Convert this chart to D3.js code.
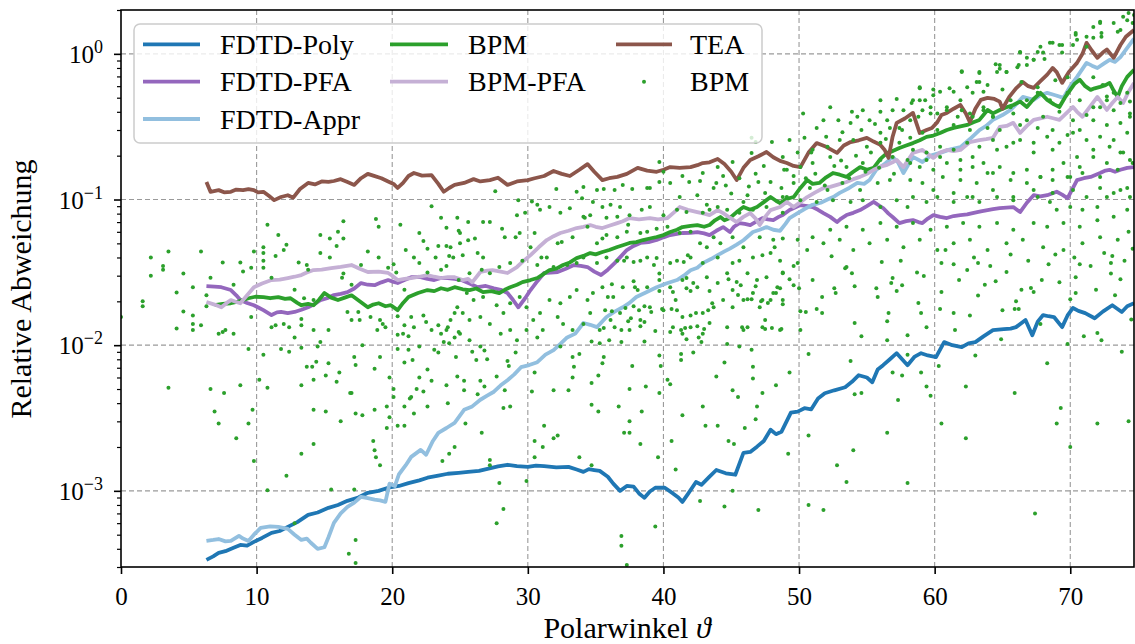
<!DOCTYPE html>
<html><head><meta charset="utf-8">
<script src="https://cdn.jsdelivr.net/npm/d3@7"></script>
<style>body{margin:0;background:#fff}svg{display:block}text{font-family:"Liberation Serif","Times New Roman",serif;fill:#000}</style>
</head><body><svg id="c" width="1135" height="644"></svg>
<script>
const xTickValues=[0,10,20,30,40,50,60,70];
const yTickExponents=[-3,-2,-1,0];
const legendLabels=["FDTD-Poly","FDTD-PFA","FDTD-Appr","BPM","BPM-PFA","TEA","BPM"];
const xLabel="Polarwinkel ";
const yLabel="Relative Abweichung";

const fdtdPoly=[[6.3,3.36e-4],[6.8,3.55e-4],[7.2,3.75e-4],[7.7,3.85e-4],[8.3,4.06e-4],[8.8,4.25e-4],[9.3,4.2e-4],[9.8,4.46e-4],[10.4,4.75e-4],[11.1,5.15e-4],[11.7,5.3e-4],[12.3,5.66e-4],[13.0,6.1e-4],[13.8,6.84e-4],[14.5,7.1e-4],[15.3,7.64e-4],[16.0,8.0e-4],[16.7,8.54e-4],[17.5,9.0e-4],[18.2,9.7e-4],[19.0,1.0e-3],[19.7,1.05e-3],[20.5,1.08e-3],[21.2,1.13e-3],[22.0,1.18e-3],[22.6,1.23e-3],[23.4,1.27e-3],[24.1,1.31e-3],[24.9,1.33e-3],[25.6,1.35e-3],[26.4,1.37e-3],[27.1,1.42e-3],[27.8,1.47e-3],[28.5,1.51e-3],[29.2,1.48e-3],[30.0,1.46e-3],[30.6,1.49e-3],[31.2,1.48e-3],[32.1,1.45e-3],[33.0,1.46e-3],[33.6,1.40e-3],[34.1,1.35e-3],[34.5,1.41e-3],[34.9,1.39e-3],[35.3,1.37e-3],[35.9,1.25e-3],[36.3,1.12e-3],[36.8,1.0e-3],[37.3,1.08e-3],[37.8,1.07e-3],[38.2,9.6e-4],[38.6,8.95e-4],[39.0,9.9e-4],[39.4,1.05e-3],[40.1,1.05e-3],[40.7,9.6e-4],[41.1,9.0e-4],[41.4,8.4e-4],[41.8,9.5e-4],[42.4,1.15e-3],[42.8,1.1e-3],[43.4,1.25e-3],[43.9,1.39e-3],[44.6,1.32e-3],[45.3,1.29e-3],[45.9,1.82e-3],[46.4,1.85e-3],[46.9,2.01e-3],[47.4,2.2e-3],[47.9,2.63e-3],[48.3,2.45e-3],[48.7,2.54e-3],[49.4,3.44e-3],[49.9,3.5e-3],[50.4,3.69e-3],[50.9,3.63e-3],[51.4,4.3e-3],[51.9,4.68e-3],[52.6,4.9e-3],[53.4,5.14e-3],[53.9,5.6e-3],[54.4,6.22e-3],[55.0,6.0e-3],[55.4,5.57e-3],[55.8,6.8e-3],[56.2,7.29e-3],[56.7,8.0e-3],[57.2,8.81e-3],[57.6,8.0e-3],[58.0,7.29e-3],[58.5,8.3e-3],[59.0,8.81e-3],[59.5,8.5e-3],[60.1,8.27e-3],[60.7,1.05e-2],[61.3,1.0e-2],[62.0,9.7e-3],[62.5,1.03e-2],[63.0,1.05e-2],[63.6,1.15e-2],[64.3,1.27e-2],[65.1,1.29e-2],[65.6,1.3e-2],[66.0,1.33e-2],[66.7,1.49e-2],[67.2,1.17e-2],[67.6,1.45e-2],[68.0,1.61e-2],[68.4,1.58e-2],[68.8,1.56e-2],[69.4,1.33e-2],[69.8,1.6e-2],[70.2,1.8e-2],[70.6,1.72e-2],[71.1,1.66e-2],[71.8,1.53e-2],[72.4,1.7e-2],[73.1,1.88e-2],[73.8,1.69e-2],[74.2,1.85e-2],[74.7,1.94e-2]];

const fdtdPfa=[[6.3,2.54e-2],[6.9,2.52e-2],[7.4,2.5e-2],[8.1,2.39e-2],[8.5,2.2e-2],[8.8,2.04e-2],[9.3,1.95e-2],[9.8,1.88e-2],[10.2,1.8e-2],[10.5,1.74e-2],[11.1,1.61e-2],[11.5,1.68e-2],[11.8,1.69e-2],[12.3,1.66e-2],[12.8,1.69e-2],[13.3,1.75e-2],[13.8,1.82e-2],[14.2,1.9e-2],[14.7,2.04e-2],[15.2,2.1e-2],[15.7,2.21e-2],[16.2,2.25e-2],[16.7,2.31e-2],[17.2,2.45e-2],[17.7,2.67e-2],[18.2,2.6e-2],[18.7,2.58e-2],[19.2,2.7e-2],[19.7,2.8e-2],[20.1,2.72e-2],[20.4,2.67e-2],[20.9,2.8e-2],[21.4,2.93e-2],[22.1,2.93e-2],[22.6,2.85e-2],[23.1,2.8e-2],[23.6,2.9e-2],[24.1,2.89e-2],[24.6,2.85e-2],[25.1,2.8e-2],[25.7,2.65e-2],[26.3,2.5e-2],[26.9,2.55e-2],[27.5,2.46e-2],[28.0,2.4e-2],[28.5,2.28e-2],[28.9,2.05e-2],[29.3,1.82e-2],[29.8,2.1e-2],[30.2,2.39e-2],[30.7,2.75e-2],[31.2,3.13e-2],[31.7,3.15e-2],[32.2,3.18e-2],[32.8,3.35e-2],[33.4,3.55e-2],[33.9,3.5e-2],[34.4,3.44e-2],[34.9,3.2e-2],[35.4,3.03e-2],[35.9,3.3e-2],[36.4,3.66e-2],[36.9,4.1e-2],[37.3,4.5e-2],[37.8,4.8e-2],[38.3,5.03e-2],[38.9,5.1e-2],[39.5,5.27e-2],[40.0,5.5e-2],[40.5,5.7e-2],[41.0,5.8e-2],[41.4,5.89e-2],[42.0,5.9e-2],[42.5,5.98e-2],[43.0,5.85e-2],[43.4,5.7e-2],[43.9,6.1e-2],[44.4,6.47e-2],[44.9,5.98e-2],[45.2,6.5e-2],[45.6,6.89e-2],[46.0,6.8e-2],[46.4,6.68e-2],[46.9,7.1e-2],[47.3,7.46e-2],[47.7,7.3e-2],[48.1,7.23e-2],[48.5,7.6e-2],[48.8,7.82e-2],[49.3,8.46e-2],[49.7,8.8e-2],[50.1,9.16e-2],[50.6,9.0e-2],[51.0,8.88e-2],[51.4,8.5e-2],[51.8,8.07e-2],[52.3,7.6e-2],[52.8,7.0e-2],[53.1,7.4e-2],[53.5,7.82e-2],[54.0,8.1e-2],[54.5,8.46e-2],[55.0,9.0e-2],[55.5,9.62e-2],[55.9,9.1e-2],[56.2,8.74e-2],[56.6,8.0e-2],[56.9,7.58e-2],[57.4,6.89e-2],[57.9,7.1e-2],[58.4,7.23e-2],[58.8,7.0e-2],[59.1,6.89e-2],[59.5,7.4e-2],[59.9,7.82e-2],[60.4,7.6e-2],[60.9,7.46e-2],[61.4,7.7e-2],[61.9,7.82e-2],[62.4,7.9e-2],[62.8,8.07e-2],[63.4,8.3e-2],[63.9,8.46e-2],[64.3,8.6e-2],[64.8,8.74e-2],[65.3,8.8e-2],[65.8,8.88e-2],[66.3,8.2e-2],[66.8,9.5e-2],[67.3,0.107],[67.8,0.105],[68.3,0.107],[69.0,0.113],[69.4,0.108],[69.8,0.102],[70.2,0.12],[70.5,0.136],[71.0,0.14],[71.5,0.143],[72.2,0.152],[72.6,0.158],[72.9,0.16],[73.3,0.155],[73.7,0.16],[74.2,0.165],[74.7,0.167]];

const fdtdAppr=[[6.3,4.53e-4],[6.8,4.6e-4],[7.2,4.67e-4],[7.7,4.5e-4],[8.1,4.53e-4],[8.7,4.9e-4],[9.0,4.7e-4],[9.4,4.53e-4],[9.8,5.0e-4],[10.3,5.57e-4],[11.0,5.7e-4],[11.6,5.66e-4],[12.3,5.48e-4],[12.8,5.0e-4],[13.3,4.6e-4],[13.7,4.7e-4],[14.0,4.4e-4],[14.5,4.0e-4],[15.0,4.1e-4],[15.3,4.8e-4],[15.7,6.03e-4],[16.2,7.0e-4],[16.7,7.76e-4],[17.2,8.3e-4],[17.7,9.1e-4],[18.2,8.9e-4],[18.7,8.7e-4],[19.1,8.6e-4],[19.5,8.4e-4],[19.8,1.12e-3],[20.2,1.08e-3],[20.5,1.3e-3],[21.0,1.5e-3],[21.4,1.71e-3],[22.1,1.91e-3],[22.5,1.77e-3],[23.0,2.2e-3],[23.4,2.5e-3],[24.0,2.7e-3],[24.6,2.93e-3],[25.3,3.6e-3],[25.9,3.8e-3],[26.5,4.22e-3],[27.0,4.5e-3],[27.5,4.79e-3],[28.0,5.3e-3],[28.5,5.75e-3],[29.0,6.3e-3],[29.5,7.06e-3],[30.1,7.3e-3],[30.7,7.64e-3],[31.3,8.6e-3],[31.9,9.25e-3],[32.4,1.02e-2],[32.9,1.13e-2],[33.5,1.2e-2],[34.1,1.42e-2],[34.6,1.38e-2],[35.1,1.33e-2],[35.8,1.56e-2],[36.4,1.7e-2],[37.0,1.82e-2],[37.5,1.95e-2],[38.0,2.14e-2],[38.7,2.3e-2],[39.5,2.5e-2],[40.2,2.65e-2],[41.0,2.8e-2],[41.5,3.0e-2],[42.0,3.27e-2],[42.5,3.4e-2],[42.9,3.66e-2],[43.5,3.9e-2],[44.0,4.15e-2],[44.5,4.4e-2],[44.9,4.6e-2],[45.4,4.9e-2],[45.9,5.25e-2],[46.6,5.98e-2],[47.1,6.2e-2],[47.6,6.47e-2],[48.1,6.2e-2],[48.6,6.1e-2],[49.0,6.8e-2],[49.3,7.46e-2],[49.9,8.07e-2],[50.4,8.6e-2],[51.0,9.2e-2],[51.6,9.5e-2],[52.1,0.1],[52.6,0.105],[53.0,0.111],[53.7,0.12],[54.3,0.13],[54.8,0.128],[55.2,0.136],[55.7,0.16],[56.3,0.175],[56.9,0.196],[57.3,0.18],[57.7,0.152],[58.0,0.17],[58.4,0.196],[59.1,0.181],[59.7,0.2],[60.4,0.209],[61.1,0.22],[61.9,0.229],[62.6,0.26],[63.3,0.3],[63.8,0.32],[64.3,0.352],[65.0,0.38],[65.6,0.412],[66.0,0.45],[66.5,0.506],[67.3,0.483],[67.8,0.52],[68.3,0.54],[68.9,0.52],[69.5,0.499],[70.0,0.6],[70.5,0.695],[71.2,0.867],[71.6,0.83],[72.0,0.8],[72.5,0.86],[72.9,0.91],[73.3,0.88],[73.7,0.95],[74.2,1.1],[74.7,1.27]];

const bpm=[[6.9,1.88e-2],[7.5,1.92e-2],[8.1,1.94e-2],[8.7,2.0e-2],[9.4,2.1e-2],[9.9,2.15e-2],[10.5,2.14e-2],[11.0,2.1e-2],[11.6,2.14e-2],[12.1,2.08e-2],[12.5,2.1e-2],[13.0,1.95e-2],[13.3,1.88e-2],[13.8,1.92e-2],[14.2,1.88e-2],[14.6,2.05e-2],[15.0,2.28e-2],[15.5,2.12e-2],[16.0,2.04e-2],[16.5,2.12e-2],[17.0,2.2e-2],[17.6,2.0e-2],[18.2,1.82e-2],[18.6,1.9e-2],[19.0,1.94e-2],[19.5,1.85e-2],[19.9,1.88e-2],[20.4,1.74e-2],[20.8,1.95e-2],[21.2,2.14e-2],[21.9,2.28e-2],[22.6,2.39e-2],[23.1,2.35e-2],[23.6,2.46e-2],[24.1,2.4e-2],[24.6,2.5e-2],[25.2,2.42e-2],[25.7,2.39e-2],[26.2,2.45e-2],[26.7,2.31e-2],[27.3,2.35e-2],[27.9,2.28e-2],[28.3,2.4e-2],[28.7,2.5e-2],[29.2,2.6e-2],[29.6,2.71e-2],[30.2,2.8e-2],[30.7,2.89e-2],[31.2,3.1e-2],[31.6,3.28e-2],[32.1,3.35e-2],[32.6,3.55e-2],[33.1,3.7e-2],[33.6,3.96e-2],[34.1,4.1e-2],[34.6,4.29e-2],[35.0,4.2e-2],[35.5,4.36e-2],[36.0,4.5e-2],[36.6,4.72e-2],[37.0,4.85e-2],[37.5,5.03e-2],[38.0,5.1e-2],[38.5,5.27e-2],[39.0,5.4e-2],[39.5,5.53e-2],[40.0,5.7e-2],[40.5,5.98e-2],[41.0,6.2e-2],[41.4,6.47e-2],[42.0,6.6e-2],[42.5,6.68e-2],[43.0,6.5e-2],[43.4,6.68e-2],[43.8,7.2e-2],[44.2,7.58e-2],[44.5,7.2e-2],[44.9,7.46e-2],[45.4,8.2e-2],[45.9,8.88e-2],[46.4,8.5e-2],[46.9,8.88e-2],[47.4,9.6e-2],[47.9,0.104],[48.3,0.098],[48.6,0.0946],[49.1,0.101],[49.6,0.104],[50.1,0.12],[50.6,0.136],[51.0,0.128],[51.5,0.13],[52.0,0.142],[52.5,0.152],[53.0,0.148],[53.5,0.143],[54.0,0.155],[54.5,0.167],[55.0,0.16],[55.5,0.165],[56.0,0.19],[56.5,0.209],[56.9,0.215],[57.4,0.226],[57.9,0.235],[58.4,0.244],[58.9,0.255],[59.4,0.269],[59.9,0.275],[60.4,0.286],[60.9,0.3],[61.4,0.31],[61.9,0.318],[62.4,0.325],[62.9,0.34],[63.3,0.352],[63.9,0.412],[64.3,0.39],[64.8,0.412],[65.3,0.43],[65.8,0.446],[66.3,0.47],[66.8,0.432],[67.3,0.49],[67.8,0.54],[68.3,0.483],[68.8,0.45],[69.2,0.432],[69.6,0.5],[70.0,0.566],[70.3,0.62],[70.7,0.663],[71.1,0.6],[71.5,0.566],[71.8,0.58],[72.2,0.593],[72.6,0.61],[72.9,0.632],[73.2,0.56],[73.5,0.506],[73.8,0.6],[74.2,0.695],[74.7,0.776]];

const bpmPfa=[[6.3,1.98e-2],[6.9,1.9e-2],[7.4,1.82e-2],[7.8,1.95e-2],[8.1,2.04e-2],[8.5,1.98e-2],[8.8,1.94e-2],[9.3,2.2e-2],[9.8,2.5e-2],[10.4,2.65e-2],[11.1,2.8e-2],[11.7,2.82e-2],[12.3,2.89e-2],[12.8,2.95e-2],[13.3,3.03e-2],[13.7,3.15e-2],[14.2,3.28e-2],[14.8,3.3e-2],[15.5,3.38e-2],[16.2,3.45e-2],[17.0,3.55e-2],[17.6,3.35e-2],[18.2,3.18e-2],[19.0,3.2e-2],[19.7,3.13e-2],[20.0,3.0e-2],[20.4,2.8e-2],[20.9,2.85e-2],[21.4,2.89e-2],[22.0,2.95e-2],[22.6,3.03e-2],[23.1,2.95e-2],[23.6,2.89e-2],[24.1,2.93e-2],[24.6,2.93e-2],[25.2,2.8e-2],[25.6,2.85e-2],[25.9,2.7e-2],[26.5,3.18e-2],[27.0,3.25e-2],[27.4,3.28e-2],[28.0,3.2e-2],[28.5,3.13e-2],[29.2,3.44e-2],[29.7,3.8e-2],[30.2,4.15e-2],[30.8,4.7e-2],[31.4,5.27e-2],[31.9,5.6e-2],[32.4,5.89e-2],[33.0,6.1e-2],[33.6,6.37e-2],[34.1,6.5e-2],[34.6,6.68e-2],[35.0,6.5e-2],[35.5,6.37e-2],[36.0,6.6e-2],[36.6,6.89e-2],[37.0,7.1e-2],[37.5,7.46e-2],[38.2,7.3e-2],[39.0,7.46e-2],[39.6,7.3e-2],[40.3,7.46e-2],[40.8,8.2e-2],[41.2,8.88e-2],[41.8,8.5e-2],[42.5,8.2e-2],[43.0,8.0e-2],[43.4,7.82e-2],[44.0,8.46e-2],[44.4,8.07e-2],[44.9,7.5e-2],[45.4,7.0e-2],[45.9,7.6e-2],[46.4,8.07e-2],[46.8,7.4e-2],[47.1,6.68e-2],[47.5,7.6e-2],[47.9,8.46e-2],[48.6,8.88e-2],[49.1,9.62e-2],[49.6,8.88e-2],[50.1,9.6e-2],[50.6,0.104],[51.2,0.112],[51.8,0.12],[52.3,0.122],[52.8,0.126],[53.5,0.132],[54.0,0.138],[54.5,0.143],[55.0,0.15],[55.5,0.16],[56.0,0.168],[56.5,0.173],[56.9,0.18],[57.2,0.187],[57.7,0.167],[58.1,0.19],[58.4,0.209],[59.1,0.219],[59.9,0.193],[60.4,0.21],[60.9,0.219],[61.4,0.215],[61.9,0.219],[62.6,0.248],[63.3,0.256],[63.8,0.26],[64.3,0.265],[64.8,0.315],[65.3,0.32],[65.8,0.336],[66.3,0.286],[66.8,0.32],[67.3,0.352],[67.8,0.36],[68.3,0.37],[68.8,0.36],[69.2,0.352],[69.7,0.39],[70.2,0.432],[70.5,0.4],[70.9,0.37],[71.5,0.44],[72.0,0.506],[72.4,0.45],[72.7,0.412],[73.1,0.46],[73.5,0.506],[73.9,0.46],[74.3,0.55],[74.7,0.632]];

const tea=[[6.3,0.132],[6.6,0.113],[7.2,0.116],[7.6,0.112],[8.1,0.113],[8.5,0.117],[9.0,0.116],[9.4,0.118],[9.8,0.116],[10.1,0.112],[10.5,0.113],[10.9,0.106],[11.3,0.099],[11.8,0.104],[12.3,0.107],[12.7,0.103],[13.2,0.118],[13.8,0.130],[14.3,0.127],[14.8,0.133],[15.3,0.132],[15.7,0.134],[16.2,0.138],[16.7,0.132],[17.2,0.126],[17.7,0.14],[18.2,0.150],[18.6,0.146],[19.2,0.14],[19.7,0.133],[20.1,0.128],[20.4,0.120],[20.8,0.13],[21.2,0.145],[21.6,0.152],[22.2,0.146],[22.9,0.147],[23.4,0.128],[23.8,0.113],[24.2,0.12],[24.6,0.126],[25.3,0.13],[26.0,0.138],[26.5,0.133],[27.2,0.136],[27.8,0.141],[28.5,0.126],[29.2,0.133],[30.0,0.136],[30.5,0.14],[31.2,0.145],[31.9,0.157],[32.5,0.15],[33.1,0.145],[33.8,0.16],[34.4,0.175],[34.9,0.155],[35.5,0.136],[36.0,0.14],[36.6,0.143],[37.3,0.15],[38.1,0.165],[38.8,0.158],[39.5,0.155],[40.0,0.16],[40.5,0.167],[41.2,0.165],[42.0,0.167],[42.5,0.172],[42.9,0.178],[43.4,0.18],[44.0,0.19],[44.5,0.175],[45.0,0.155],[45.4,0.136],[45.9,0.165],[46.4,0.187],[47.0,0.198],[47.6,0.212],[48.1,0.195],[48.6,0.184],[49.1,0.178],[49.6,0.17],[50.1,0.167],[50.7,0.21],[51.3,0.244],[52.0,0.23],[52.8,0.209],[53.3,0.235],[53.8,0.248],[54.4,0.255],[55.0,0.265],[55.5,0.25],[56.0,0.237],[56.3,0.22],[56.6,0.193],[56.9,0.27],[57.2,0.336],[57.8,0.36],[58.4,0.393],[58.9,0.286],[59.4,0.3],[59.8,0.31],[60.2,0.34],[60.5,0.38],[60.9,0.393],[61.4,0.42],[61.9,0.446],[62.3,0.39],[62.6,0.34],[63.0,0.42],[63.4,0.483],[63.9,0.499],[64.4,0.49],[64.8,0.47],[65.0,0.42],[65.5,0.506],[66.0,0.58],[66.5,0.64],[66.9,0.6],[67.3,0.584],[67.8,0.65],[68.3,0.72],[68.7,0.8],[69.0,0.75],[69.4,0.632],[69.9,0.75],[70.5,0.867],[70.9,1.0],[71.2,1.19],[71.6,1.05],[72.0,0.939],[72.4,1.02],[72.7,1.07],[73.2,0.939],[73.7,1.15],[74.1,1.31],[74.7,1.46]];

const bpmScatter=[[0.0,0.0156],[2.2,0.040],[2.2,0.030],[3.1,0.035],[3.1,0.033],[3.5,0.044],[4.6,0.031],[5.9,0.044],[5.3,0.025],[4.1,0.023],[1.6,0.020],[1.6,0.0185],[4.1,0.013],[4.6,0.017],[5.3,0.016],[5.3,0.014],[5.3,0.0127],[5.9,0.0137],[6.6,0.029],[6.3,0.022],[6.3,0.0185],[7.5,0.037],[8.3,0.026],[7.2,0.012],[7.5,0.0123],[7.7,0.0127],[8.3,0.012],[8.8,0.037],[9.0,0.032],[9.6,0.034],[9.8,0.044],[9.6,0.0156],[9.4,0.0094],[10.5,0.047],[10.5,0.043],[10.5,0.038],[10.5,0.034],[10.8,0.067],[11.6,0.057],[11.4,0.041],[12.0,0.045],[12.2,0.049],[11.1,0.029],[11.1,0.0133],[11.4,0.0137],[12.0,0.014],[12.4,0.0133],[12.8,0.0113],[13.3,0.0151],[13.3,0.0137],[11.8,0.0094],[12.4,0.009],[13.3,0.0096],[10.5,0.0086],[13.1,0.037],[13.7,0.0355],[13.8,0.033],[12.8,0.024],[13.5,0.021],[14.2,0.0204],[14.7,0.057],[15.4,0.054],[16.0,0.060],[16.4,0.054],[16.4,0.071],[14.7,0.043],[15.4,0.040],[15.9,0.048],[16.4,0.031],[16.3,0.029],[17.0,0.026],[17.7,0.0355],[18.2,0.044],[18.8,0.0735],[19.0,0.065],[19.0,0.040],[16.7,0.0169],[17.5,0.0169],[17.0,0.0149],[17.6,0.0149],[18.4,0.0156],[19.1,0.0149],[19.3,0.014],[19.5,0.0133],[18.9,0.0127],[15.3,0.0127],[14.2,0.0127],[14.7,0.0105],[14.5,0.0098],[17.8,0.010],[17.2,0.0083],[17.3,0.0073],[19.1,0.0083],[18.7,0.0069],[15.3,0.0075],[13.7,0.0071],[14.1,0.0071],[14.4,0.0077],[14.2,0.0058],[15.1,0.0062],[15.9,0.0056],[16.1,0.0065],[13.3,0.0053],[10.8,0.0051],[10.2,0.0058],[8.8,0.0053],[7.6,0.0047],[6.6,0.0050],[3.5,0.0051],[17.0,0.0047],[19.8,0.006],[20.1,0.005],[20.1,0.0044],[20.6,0.067],[19.7,0.034],[20.1,0.036],[20.3,0.0316],[21.0,0.045],[21.6,0.040],[22.0,0.059],[22.3,0.052],[22.0,0.0366],[22.9,0.090],[23.6,0.075],[24.0,0.064],[24.0,0.048],[24.3,0.047],[24.9,0.061],[22.6,0.046],[23.2,0.040],[23.4,0.048],[22.6,0.0316],[23.6,0.033],[24.2,0.041],[24.0,0.035],[20.9,0.024],[20.4,0.0158],[20.9,0.0137],[21.4,0.0156],[21.6,0.0133],[20.8,0.012],[21.2,0.0115],[20.4,0.0118],[22.3,0.016],[22.5,0.0144],[22.9,0.0127],[23.4,0.0137],[23.6,0.012],[24.0,0.0127],[24.3,0.0149],[24.6,0.0166],[24.9,0.0123],[24.6,0.0113],[23.8,0.0105],[24.2,0.0103],[24.1,0.0133],[21.2,0.0093],[20.4,0.0094],[22.0,0.0098],[23.1,0.0093],[23.4,0.0089],[24.7,0.0083],[20.9,0.0076],[21.5,0.0079],[22.6,0.0068],[22.0,0.006],[22.9,0.0057],[24.0,0.0053],[21.8,0.005],[22.3,0.0048],[21.4,0.0044],[6.9,0.0035],[7.2,0.0029],[8.5,0.0023],[9.4,0.0029],[9.7,0.0036],[9.8,0.0016],[12.2,0.00127],[10.8,0.00101],[12.8,0.0006],[13.3,0.0018],[14.2,0.0036],[14.2,0.0021],[15.1,0.0035],[16.2,0.003],[15.5,0.00102],[17.2,0.00102],[17.3,0.00046],[16.8,0.00037],[17.3,0.00032],[16.9,0.0047],[17.3,0.0034],[17.8,0.0033],[18.7,0.0036],[18.6,0.0022],[18.7,0.0019],[18.8,0.0017],[19.1,0.0015],[19.6,0.0038],[19.8,0.0032],[19.6,0.0027],[20.4,0.0028],[20.9,0.0028],[20.9,0.0038],[21.3,0.0043],[21.6,0.0034],[22.6,0.0038],[23.7,0.0016],[24.1,0.004],[24.2,0.0018],[24.6,0.002],[24.8,0.0061],[25.3,0.0049],[25.4,0.0029],[25.3,0.0057],[25.9,0.009],[26.2,0.0079],[26.3,0.0046],[26.5,0.0057],[26.6,0.0025],[26.8,0.0052],[26.8,0.0092],[27.0,0.008],[27.2,0.00163],[27.2,0.0015],[27.7,0.0061],[27.9,0.00113],[27.7,0.0006],[28.2,0.00075],[28.2,0.0037],[28.7,0.0038],[28.3,0.0049],[28.5,0.0078],[28.6,0.0072],[29.1,0.0089],[29.9,0.00117],[30.3,0.0048],[30.5,0.0065],[30.5,0.0022],[30.5,0.0017],[31.1,0.002],[31.2,0.0028],[31.9,0.0023],[32.2,0.0024],[31.9,0.0049],[33.0,0.0049],[33.3,0.006],[33.4,0.0071],[33.3,0.0083],[33.8,0.0017],[33.8,0.0087],[34.7,0.0055],[34.7,0.0039],[34.7,0.0106],[35.2,0.0062],[35.2,0.0035],[35.5,0.0075],[35.6,0.0083],[34.7,0.0015],[36.7,0.0038],[36.9,0.00049],[36.9,0.00042],[37.7,0.0072],[37.5,0.005],[37.5,0.003],[37.1,0.0025],[37.5,0.0025],[38.4,0.0035],[38.3,0.0021],[38.7,0.0052],[39.7,0.0085],[39.8,0.0072],[39.7,0.0047],[39.6,0.0017],[40.3,0.0058],[40.5,0.0054],[40.6,0.0022],[40.9,0.0014],[41.3,0.0087],[41.3,0.0079],[41.4,0.0033],[42.2,0.0089],[42.9,0.0038],[43.1,0.0028],[42.7,0.00085],[43.9,0.0061],[44.0,0.0028],[44.5,0.0076],[44.5,0.00078],[44.8,0.0022],[45.2,0.0021],[45.1,0.0049],[45.5,0.0044],[45.1,0.001],[46.0,0.0027],[46.6,0.0059],[46.9,0.0038],[46.8,0.0031],[47.3,0.0047],[47.0,0.00074],[48.3,0.0053],[49.2,0.0018],[49.3,0.0065],[39.4,0.00057],[37.3,0.00031],[50.7,0.0087],[50.7,0.0024],[50.7,0.0008],[51.8,0.00074],[52.8,0.0015],[53.5,0.00115],[54.0,0.0019],[53.8,0.0078],[54.6,0.0047],[54.1,0.0046],[54.6,0.0115],[54.1,0.0142],[56.5,0.0108],[56.5,0.0025],[56.9,0.0065],[57.3,0.0042],[57.6,0.0062],[58.0,0.0117],[58.0,0.00113],[58.0,0.0086],[59.0,0.0065],[59.4,0.0052],[59.7,0.0045],[59.4,0.0133],[60.3,0.0072],[60.5,0.0029],[62.3,0.0052],[62.3,0.0023],[65.9,0.0047],[67.4,0.0007],[69.0,0.0029],[69.3,0.0037],[70.0,0.002],[72.0,0.0029],[74.3,0.003],[61.5,0.0127],[62.6,0.016],[63.2,0.0219],[64.5,0.0275],[65.0,0.0174],[65.9,0.0177],[66.2,0.0177],[65.3,0.0318],[67.9,0.028],[68.4,0.036],[67.1,0.0247],[67.3,0.0232],[69.8,0.0102],[70.0,0.0207],[70.4,0.0228],[70.4,0.0293],[70.7,0.036],[72.0,0.0121],[72.3,0.0108],[73.7,0.0284],[73.0,0.0366],[73.0,0.031],[73.1,0.041],[63.2,0.0366],[61.4,0.036],[60.5,0.0366],[62.4,0.0328],[60.5,0.0232],[60.4,0.0177],[61.4,0.0166],[58.7,0.0316],[59.2,0.0298],[58.8,0.0195],[59.0,0.0166],[56.8,0.0267],[56.9,0.0289],[57.2,0.0235],[57.6,0.0258],[57.5,0.038],[55.7,0.0246],[55.8,0.0214],[56.1,0.0372],[56.6,0.0166],[56.5,0.0146],[53.5,0.0344],[53.9,0.0312],[53.4,0.0338],[54.1,0.0254],[52.6,0.0246],[52.7,0.0228],[51.7,0.0214],[52.4,0.0408],[51.3,0.0177],[51.7,0.0166],[51.0,0.028],[50.1,0.0171],[50.5,0.0169],[50.1,0.0127],[49.6,0.035],[49.6,0.0258],[49.3,0.0284],[49.9,0.0366],[50.0,0.0246],[48.8,0.0316],[48.6,0.0246],[48.3,0.0228],[48.8,0.0191],[48.7,0.0129],[48.0,0.0131],[47.5,0.0149],[47.5,0.0129],[47.7,0.0195],[47.2,0.0200],[47.1,0.0182],[47.9,0.0204],[46.8,0.0254],[46.5,0.0207],[46.2,0.0207],[45.5,0.0221],[45.7,0.0258],[45.1,0.0239],[44.8,0.0284],[45.8,0.0133],[46.2,0.0133],[46.5,0.0093],[46.6,0.0071],[45.6,0.0098],[44.7,0.0102],[43.4,0.0235],[43.6,0.0194],[43.3,0.0174],[43.4,0.0142],[43.0,0.0129],[42.8,0.0105],[42.6,0.0113],[42.4,0.0166],[42.0,0.016],[42.5,0.0135],[42.2,0.0267],[42.0,0.0235],[41.7,0.0246],[41.7,0.0289],[41.5,0.0372],[41.8,0.0415],[41.6,0.0131],[41.7,0.011],[41.3,0.0127],[41.0,0.0174],[40.6,0.0177],[40.5,0.0123],[40.7,0.0232],[40.9,0.0204],[39.9,0.0177],[39.7,0.0235],[39.7,0.031],[39.4,0.0125],[39.1,0.0169],[39.3,0.0355],[38.6,0.0185],[38.6,0.0144],[38.6,0.0106],[38.2,0.0174],[37.9,0.025],[37.8,0.0275],[38.3,0.0135],[37.8,0.0185],[37.6,0.0153],[37.2,0.018],[37.4,0.0146],[36.9,0.0127],[36.4,0.0133],[36.2,0.0171],[36.2,0.0262],[35.9,0.0214],[35.7,0.0174],[35.6,0.0131],[36.9,0.0105],[36.0,0.0108],[37.1,0.038],[37.8,0.0372],[27.6,0.114],[32.1,0.118],[33.6,0.113],[34.1,0.122],[35.1,0.116],[35.6,0.118],[36.4,0.116],[37.0,0.126],[37.7,0.118],[38.8,0.12],[39.7,0.181],[40.0,0.155],[41.4,0.145],[41.9,0.132],[42.7,0.134],[42.9,0.152],[43.7,0.12],[44.0,0.167],[44.4,0.145],[45.1,0.181],[46.5,0.209],[47.0,0.132],[47.5,0.111],[48.0,0.248],[47.9,0.132],[48.7,0.12],[48.8,0.104],[46.2,0.107],[45.9,0.096],[44.0,0.089],[43.2,0.092],[42.5,0.107],[41.2,0.104],[40.5,0.13],[39.7,0.132],[39.0,0.12],[36.8,0.089],[36.1,0.092],[35.5,0.089],[34.8,0.096],[34.0,0.102],[33.1,0.087],[32.4,0.081],[31.6,0.089],[30.9,0.085],[30.3,0.097],[29.3,0.099],[29.2,0.078],[29.8,0.081],[30.7,0.092],[34.1,0.076],[34.6,0.078],[35.8,0.075],[36.6,0.076],[37.5,0.078],[38.4,0.085],[39.0,0.089],[40.0,0.078],[41.0,0.085],[41.7,0.082],[42.9,0.081],[43.4,0.085],[44.7,0.085],[45.6,0.081],[46.6,0.085],[47.6,0.089],[48.8,0.081],[24.8,0.075],[25.0,0.059],[25.6,0.07],[26.1,0.054],[26.7,0.07],[27.2,0.07],[28.1,0.063],[28.3,0.055],[26.3,0.043],[26.7,0.04],[25.2,0.0415],[24.5,0.04],[25.0,0.05],[25.6,0.0526],[29.1,0.055],[29.4,0.059],[30.5,0.059],[30.2,0.047],[31.0,0.04],[31.4,0.04],[32.2,0.05],[32.5,0.051],[33.3,0.055],[34.2,0.075],[34.4,0.065],[35.1,0.05],[35.5,0.054],[35.8,0.057],[36.6,0.055],[37.3,0.06],[37.4,0.067],[38.3,0.059],[38.8,0.06],[39.5,0.063],[40.3,0.065],[41.2,0.059],[42.0,0.06],[42.7,0.05],[43.2,0.047],[43.7,0.055],[44.2,0.05],[45.1,0.055],[45.9,0.047],[47.1,0.055],[48.1,0.053],[48.8,0.054],[48.2,0.047],[47.9,0.043],[48.6,0.038],[47.3,0.0415],[46.6,0.04],[45.6,0.038],[45.1,0.0366],[44.0,0.04],[42.9,0.0366],[42.0,0.04],[41.0,0.038],[40.5,0.0366],[39.5,0.0396],[38.8,0.04],[38.3,0.038],[37.3,0.04],[36.6,0.038],[35.8,0.04],[35.1,0.0366],[34.1,0.04],[33.6,0.0366],[32.9,0.0355],[31.9,0.0344],[30.7,0.0355],[29.6,0.038],[28.7,0.0366],[27.9,0.0344],[27.2,0.0312],[26.6,0.033],[25.7,0.0312],[24.9,0.028],[25.5,0.0228],[26.0,0.0204],[26.7,0.0214],[27.7,0.0188],[28.2,0.0166],[28.7,0.0194],[29.4,0.0214],[29.9,0.0182],[30.4,0.0149],[30.9,0.0166],[31.6,0.0204],[32.4,0.0194],[33.1,0.0214],[33.6,0.0239],[34.4,0.0204],[34.8,0.0228],[35.5,0.025],[36.3,0.0214],[37.0,0.025],[38.1,0.0239],[38.8,0.025],[39.7,0.028],[40.5,0.025],[41.4,0.028],[42.5,0.025],[43.2,0.0293],[44.0,0.0267],[44.7,0.0312],[45.4,0.0271],[46.2,0.0312],[46.9,0.028],[47.6,0.0293],[48.4,0.025],[48.8,0.0312],[24.8,0.0182],[25.2,0.0166],[25.7,0.0149],[26.5,0.0156],[27.2,0.014],[28.0,0.012],[28.7,0.0127],[29.2,0.0108],[29.9,0.0127],[30.7,0.0113],[31.1,0.0127],[32.2,0.0156],[32.6,0.014],[33.3,0.0127],[34.1,0.014],[34.6,0.0166],[35.3,0.0127],[36.1,0.0149],[36.8,0.0166],[37.5,0.0127],[38.3,0.0149],[39.0,0.0182],[40.0,0.0174],[40.7,0.0133],[41.4,0.0156],[42.0,0.0133],[42.9,0.0166],[43.7,0.0182],[44.4,0.0204],[45.1,0.0182],[45.9,0.0204],[46.6,0.0228],[47.3,0.0204],[48.1,0.0228],[48.8,0.0204],[25.0,0.012],[25.7,0.0108],[26.5,0.0098],[32.4,0.0098],[35.3,0.0103],[41.4,0.012],[42.9,0.012],[44.7,0.0133],[45.9,0.0127],[47.3,0.0133],[48.6,0.0127],[62.0,0.76],[63.3,0.75],[64.5,0.85],[64.8,0.79],[65.3,0.75],[66.2,0.84],[66.3,1.03],[66.8,0.94],[67.3,0.91],[67.6,1.03],[68.1,0.92],[68.5,1.19],[69.4,1.15],[69.4,1.02],[70.4,1.35],[70.5,1.25],[71.2,1.31],[71.7,1.53],[72.2,1.63],[72.3,1.31],[73.2,1.63],[73.5,1.42],[73.9,1.8],[74.3,1.91],[74.6,1.63],[58.9,0.59],[59.9,0.52],[61.4,0.55],[61.9,0.48],[62.8,0.54],[63.3,0.64],[63.6,0.55],[65.0,0.57],[65.6,0.48],[66.4,0.64],[67.6,0.59],[68.9,0.66],[69.8,0.69],[71.7,0.69],[72.4,0.61],[72.7,0.51],[73.2,0.54],[74.2,0.54],[74.4,0.47],[56.0,0.48],[57.2,0.49],[58.3,0.46],[58.9,0.48],[59.7,0.43],[56.9,0.41],[56.0,0.40],[54.7,0.41],[53.9,0.40],[52.3,0.43],[51.8,0.35],[51.3,0.31],[50.3,0.39],[50.4,0.265],[49.3,0.256],[52.9,0.35],[53.8,0.335],[54.3,0.37],[55.2,0.35],[56.5,0.35],[56.7,0.31],[56.0,0.287],[57.4,0.31],[58.2,0.35],[59.1,0.41],[60.2,0.39],[60.9,0.43],[62.0,0.41],[62.8,0.37],[63.6,0.43],[64.3,0.37],[65.8,0.39],[66.8,0.35],[68.0,0.37],[69.2,0.40],[70.2,0.35],[71.2,0.38],[72.2,0.43],[73.2,0.41],[74.4,0.37],[73.7,0.335],[72.7,0.325],[71.7,0.35],[70.7,0.30],[69.8,0.277],[68.7,0.30],[67.6,0.31],[66.3,0.325],[64.8,0.30],[63.9,0.31],[62.6,0.30],[61.4,0.325],[60.2,0.30],[59.1,0.287],[58.2,0.265],[57.4,0.245],[56.0,0.245],[55.0,0.23],[54.0,0.256],[53.0,0.256],[52.1,0.23],[51.0,0.22],[49.9,0.21],[48.8,0.196],[49.1,0.16],[50.1,0.167],[51.0,0.178],[52.3,0.196],[53.5,0.167],[54.7,0.178],[56.0,0.187],[56.9,0.196],[58.2,0.178],[59.4,0.187],[60.4,0.196],[61.9,0.187],[62.8,0.196],[63.6,0.178],[64.6,0.22],[65.8,0.245],[67.3,0.21],[68.7,0.22],[69.5,0.178],[70.5,0.196],[71.7,0.22],[72.9,0.23],[73.9,0.21],[74.6,0.178],[73.5,0.16],[72.2,0.143],[70.9,0.152],[70.0,0.143],[68.7,0.136],[67.8,0.143],[66.8,0.13],[65.6,0.136],[64.3,0.152],[63.1,0.13],[61.9,0.136],[60.6,0.143],[59.1,0.13],[58.2,0.136],[56.7,0.136],[55.8,0.13],[54.5,0.116],[53.2,0.13],[52.1,0.116],[50.8,0.12],[49.6,0.13],[49.1,0.104],[50.1,0.099],[51.3,0.096],[52.5,0.099],[53.8,0.096],[54.7,0.099],[56.0,0.089],[57.2,0.099],[58.0,0.089],[59.4,0.096],[60.2,0.104],[61.4,0.096],[62.4,0.104],[63.3,0.096],[64.6,0.104],[65.8,0.099],[67.6,0.104],[68.5,0.096],[69.0,0.085],[70.0,0.089],[70.9,0.085],[72.0,0.089],[72.7,0.104],[73.7,0.116],[74.4,0.104],[74.2,0.085],[73.2,0.076],[72.0,0.072],[70.7,0.065],[69.5,0.069],[68.3,0.065],[67.3,0.069],[65.8,0.062],[64.6,0.069],[63.3,0.065],[62.1,0.069],[60.9,0.065],[59.7,0.062],[58.4,0.069],[57.2,0.065],[56.0,0.069],[54.7,0.062],[53.5,0.065],[52.3,0.062],[51.0,0.055],[49.9,0.053],[50.6,0.045],[51.8,0.05],[53.0,0.053],[54.0,0.045],[55.2,0.05],[56.5,0.053],[57.7,0.047],[58.9,0.053],[60.2,0.045],[61.4,0.05],[62.6,0.053],[63.9,0.045],[65.3,0.05],[66.5,0.053],[68.0,0.047],[69.5,0.045],[70.9,0.05],[72.2,0.055],[73.5,0.053],[74.6,0.046],[74.3,0.06],[46.5,0.265],[46.8,0.248],
[74.7,1.85],[74.2,1.7],[73.7,1.46],[72.2,1.66],[72.3,1.39],[71.7,1.29],[70.4,1.39],[71.2,1.12],[70.2,1.15],[69.2,1.15],[68.7,1.19],[67.8,1.12],[68.0,1.02],[67.3,0.91],[66.3,1.02],[66.8,0.84],[66.1,0.81],[64.8,0.84],[64.6,0.75],[65.3,0.75],[63.3,0.74],[62.0,0.75],[63.9,0.61],[63.1,0.64],[62.4,0.59],[61.1,0.58],[60.4,0.55],[59.9,0.57],[58.9,0.58],[59.3,0.48],[58.4,0.48],[57.7,0.41],[58.8,0.37],[59.7,0.39],[60.9,0.41],[61.7,0.37],[62.6,0.39],[63.6,0.41],[64.3,0.37],[65.6,0.43],[66.8,0.48],[67.6,0.54],[68.5,0.48],[69.8,0.54],[70.7,0.48],[71.7,0.43],[72.7,0.48],[73.7,0.46],[74.4,0.39],[74.2,0.287],[73.2,0.256],[72.2,0.27],[71.2,0.256],[70.2,0.287],[69.2,0.245],[68.3,0.27],[67.3,0.245],[66.3,0.256],[65.3,0.23],[64.3,0.256],[63.3,0.23],[62.4,0.245],[61.4,0.22],[60.4,0.23],[59.4,0.21],[58.4,0.22],[58.0,0.187],[58.9,0.167],[59.9,0.16],[60.9,0.178],[61.9,0.16],[62.8,0.167],[63.9,0.152],[64.8,0.167],[65.8,0.152],[66.8,0.16],[67.8,0.143],[68.7,0.16],[69.8,0.143],[70.7,0.167],[71.7,0.196],[72.7,0.178],[73.7,0.21],[74.4,0.187],[74.2,0.12],[73.2,0.111],[72.2,0.12],[71.2,0.104],[70.2,0.116],[68.7,0.111],[67.3,0.116],[65.8,0.104],[64.3,0.116],[62.8,0.104],[61.4,0.111],[59.9,0.116],[58.4,0.104],
[50.5,0.14],[51.2,0.15],[51.9,0.125],[52.6,0.17],[53.1,0.185],[53.7,0.14],[54.2,0.2],[54.9,0.155],[55.3,0.21],[55.9,0.165],[56.4,0.26],[57.0,0.15],[57.6,0.3],[50.9,0.21],[52.0,0.27],[53.2,0.29],[54.6,0.3],[55.6,0.33],[49.6,0.145],[48.9,0.16],[47.4,0.17],[46.8,0.15],[45.6,0.14],[44.6,0.125],[43.9,0.13],[45.0,0.11],[46.3,0.123],
[60.8,0.045],[62.9,0.04],[64.1,0.035],[65.6,0.042],[66.9,0.038],[68.9,0.042],[70.3,0.04],[71.5,0.035],[72.5,0.043],[74.0,0.038],[61.8,0.028],[63.7,0.026],[66.4,0.024],[69.2,0.027],[71.9,0.024],[73.3,0.022],[64.9,0.011],[67.8,0.014],[71.0,0.0115],[73.8,0.009],[63.0,0.0085],[68.3,0.0075],[66.0,0.02],[74.5,0.015]];

const W=1135,H=644,X0=121,X1=1134,Y0=10,Y1=567;
const FONT='"Liberation Serif","Times New Roman",serif';
const svg=d3.select("#c");
const x=d3.scaleLinear().domain([0,74.7]).range([X0,X1]);
const y=d3.scaleLog().domain([3.0e-4,2.0]).range([Y1,Y0]);
svg.append("rect").attr("width",W).attr("height",H).attr("fill","#fff");
svg.append("defs").append("clipPath").attr("id","clip").append("rect").attr("x",X0).attr("y",Y0).attr("width",X1-X0).attr("height",Y1-Y0);

const yMajor=yTickExponents.map(e=>Math.pow(10,e));
const yMinor=[];
for(let e=-4;e<=0;e++){for(let k=2;k<=9;k++){const v=k*Math.pow(10,e);if(v>=3.0e-4&&v<=2.0)yMinor.push(v);}}

// grid
const grid=svg.append("g").attr("stroke","#9a9a9a").attr("stroke-width",1.1).attr("stroke-dasharray","5,3");
grid.selectAll("line.gx").data(xTickValues.filter(d=>d>0)).join("line").attr("x1",d=>x(d)).attr("x2",d=>x(d)).attr("y1",Y0).attr("y2",Y1);
grid.selectAll("line.gy").data(yMajor).join("line").attr("x1",X0).attr("x2",X1).attr("y1",d=>y(d)).attr("y2",d=>y(d));

// lines
const plot=svg.append("g").attr("clip-path","url(#clip)");
const line=d3.line().x(d=>x(d[0])).y(d=>y(d[1]));
const seriesList=[
 {data:fdtdPoly,color:"#1f77b4"},
 {data:fdtdPfa,color:"#9467bd"},
 {data:fdtdAppr,color:"#92bfdf"},
 {data:bpm,color:"#2ca02c"},
 {data:bpmPfa,color:"#c5b0d5"},
 {data:tea,color:"#8c564b"}
];
seriesList.forEach(s=>{
 plot.append("path").datum(s.data).attr("d",line).attr("fill","none").attr("stroke",s.color)
 .attr("stroke-width",3.8).attr("stroke-linejoin","round").attr("stroke-linecap","butt");
});
plot.append("g").selectAll("circle").data(bpmScatter).join("circle")
 .attr("cx",d=>x(d[0])).attr("cy",d=>y(d[1])).attr("r",2.0).attr("fill","#2ca02c");

// axes
const xAxis=d3.axisBottom(x).tickValues(xTickValues).tickSize(7).tickPadding(13).tickFormat(d3.format("d"));
const gx=svg.append("g").attr("transform",`translate(0,${Y1})`).call(xAxis);
gx.attr("font-family",null).attr("font-size",null);
gx.select(".domain").remove();
gx.selectAll(".tick line").attr("stroke","#000").attr("stroke-width",1.6);
gx.selectAll(".tick text").style("font-family",FONT).style("font-size","25px").attr("fill","#000");

const gyMin=svg.append("g").attr("transform",`translate(${X0},0)`).call(d3.axisLeft(y).tickValues(yMinor).tickSize(4).tickFormat(""));
gyMin.select(".domain").remove();
gyMin.selectAll(".tick line").attr("stroke","#000").attr("stroke-width",1.2);
const gy=svg.append("g").attr("transform",`translate(${X0},0)`).call(d3.axisLeft(y).tickValues(yMajor).tickSize(7).tickFormat(""));
gy.select(".domain").remove();
gy.selectAll(".tick line").attr("stroke","#000").attr("stroke-width",1.6);
yTickExponents.forEach(e=>{
 const t=svg.append("text").attr("x",103).attr("y",y(Math.pow(10,e))+9).attr("text-anchor","end").style("font-family",FONT).style("font-size","25px");
 t.append("tspan").text("10");
 t.append("tspan").attr("dy",-10).style("font-size","18px").text(e<0?"\u2212"+(-e):String(e));
});

// spines
svg.append("rect").attr("x",X0).attr("y",Y0).attr("width",X1-X0).attr("height",Y1-Y0)
 .attr("fill","none").attr("stroke","#000").attr("stroke-width",1.6);

// axis labels
const xl=svg.append("text").attr("x",627).attr("y",638).attr("text-anchor","middle").style("font-family",FONT).style("font-size","30px");
xl.append("tspan").text(xLabel);
xl.append("tspan").attr("font-style","italic").text("\u03D1");
svg.append("text").attr("transform","translate(31,289) rotate(-90)").attr("text-anchor","middle").style("font-family",FONT).style("font-size","30px").text(yLabel);

// legend
const lg=svg.append("g");
lg.append("rect").attr("x",134).attr("y",24).attr("width",628).attr("height",119).attr("rx",6)
 .attr("fill","#fff").attr("fill-opacity",0.8).attr("stroke","#cccccc").attr("stroke-width",1.5);
const rows=[44.3,81.7,119];
const legendItems=[
 {i:0,col:0,row:0,color:"#1f77b4"},{i:1,col:0,row:1,color:"#9467bd"},{i:2,col:0,row:2,color:"#92bfdf"},
 {i:3,col:1,row:0,color:"#2ca02c"},{i:4,col:1,row:1,color:"#c5b0d5"},
 {i:5,col:2,row:0,color:"#8c564b"},{i:6,col:2,row:1,color:"#2ca02c",dot:true}
];
const colH=[[143,200],[390,448],[616,672]], colT=[220,468,690];
legendItems.forEach(it=>{
 const yy=rows[it.row];
 if(it.dot){lg.append("circle").attr("cx",(colH[it.col][0]+colH[it.col][1])/2).attr("cy",yy).attr("r",2.0).attr("fill",it.color);}
 else{lg.append("line").attr("x1",colH[it.col][0]).attr("x2",colH[it.col][1]).attr("y1",yy).attr("y2",yy).attr("stroke",it.color).attr("stroke-width",3.8);}
 lg.append("text").attr("x",colT[it.col]).attr("y",yy+9.5).style("font-family",FONT).style("font-size","28px").text(legendLabels[it.i]);
});
</script></body></html>
